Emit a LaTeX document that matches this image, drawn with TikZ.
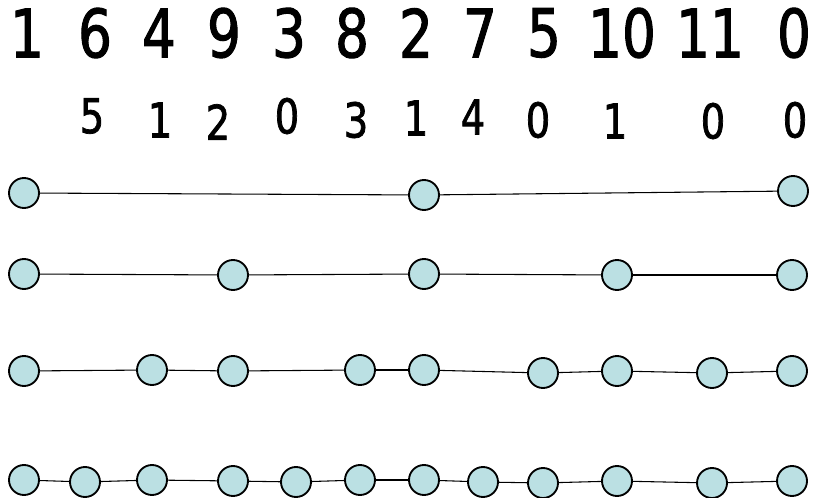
\documentclass[tikz,border=0pt]{standalone}
\usepackage{fontspec}
\setmainfont{DejaVu Sans}[FakeStretch=0.8, FakeBold=1.5]
\usepackage{xcolor}
\usepackage{tikz}
\definecolor{nodeblue}{HTML}{BBE0E3}

\begin{document}
\begin{tikzpicture}[
    x=0.75pt, y=-0.75pt,
    vertex/.style={circle, draw=black, line width=1.4pt, fill=nodeblue,
                   minimum size=22.5pt, inner sep=0pt},
    edge/.style={draw=black, line width=0.8pt},
    key/.style={font=\fontsize{50}{60}\selectfont, inner sep=0pt},
    count/.style={font=\fontsize{36}{43}\selectfont, inner sep=0pt}
]
    \useasboundingbox (0,0) rectangle (816,498);

    % sequence and counts
    \foreach \x/\t [count=\i] in {27/1, 95/6, 159/4, 224/9, 289/3, 352/8,
                                  416/2, 480/7, 544/5, 622/10, 710/11, 794/0}
        \node[key] (key\i) at (\x,33) {\t};
    \foreach \x/\y/\t [count=\i] in {92/116/5, 160/120/1, 218/122/2, 287/116/0,
                                     356/120/3, 416/118/1, 473/117/4, 538/120/0,
                                     615/121/1, 713/121/0, 795/120/0}
        \node[count] (cnt\i) at (\x,\y) {\t};

    % level 1
    \foreach \x/\y [count=\i] in {24/193, 424/195, 793/191}
        \node[vertex] (a\i) at (\x,\y) {};
    \foreach \i [count=\j from 2] in {1,2}
        \draw[edge] (a\i) -- (a\j);

    % level 2
    \foreach \x/\y [count=\i] in {24/274, 233/275, 424/274, 617/275, 792/275}
        \node[vertex] (b\i) at (\x,\y) {};
    \foreach \i [count=\j from 2] in {1,...,4}
        \draw[edge] (b\i) -- (b\j);

    % level 3
    \foreach \x/\y [count=\i] in {24/371, 152/370, 233/371, 360/370, 424/370,
                                  543/373, 617/371, 712/373, 792/371}
        \node[vertex] (c\i) at (\x,\y) {};
    \foreach \i [count=\j from 2] in {1,...,8}
        \draw[edge] (c\i) -- (c\j);

    % level 4
    \foreach \x/\y [count=\i] in {24/480, 85/482, 152/480, 233/481, 296/482,
                                  360/480, 424/480, 483/482, 543/483, 617/481,
                                  712/483, 792/481}
        \node[vertex] (d\i) at (\x,\y) {};
    \foreach \i [count=\j from 2] in {1,...,11}
        \draw[edge] (d\i) -- (d\j);
\end{tikzpicture}
\end{document}
